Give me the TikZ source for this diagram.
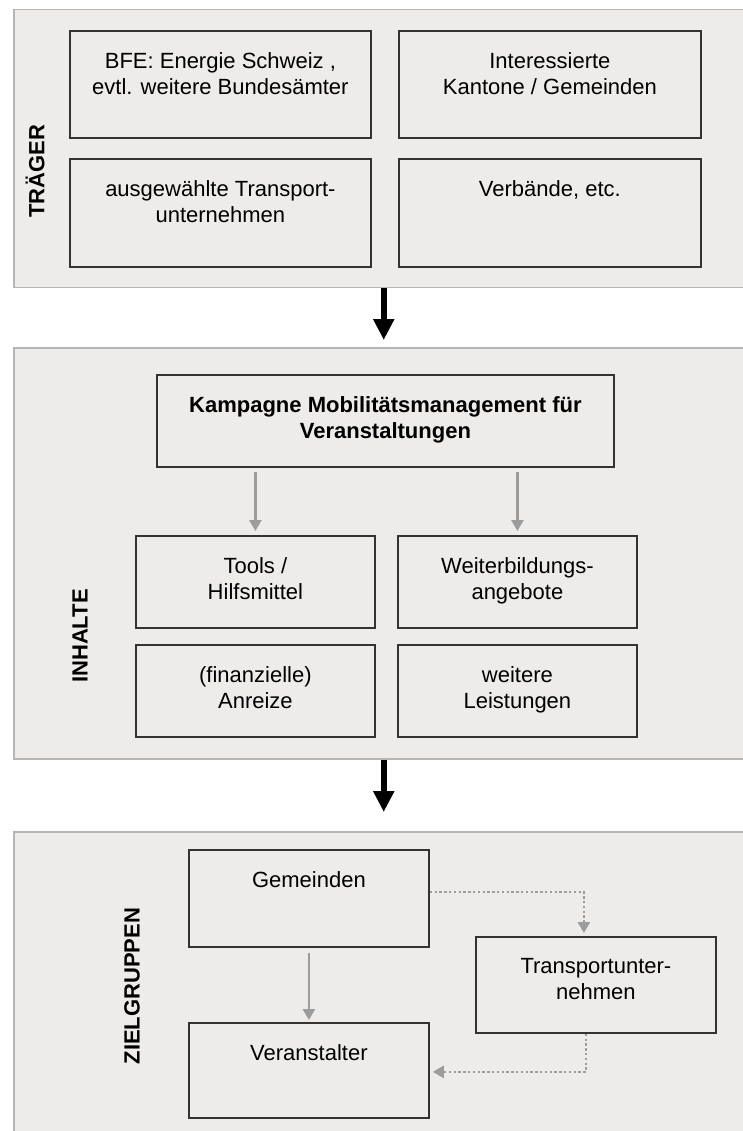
\documentclass[tikz,border=0pt]{standalone}
\usepackage{fontspec}
\setmainfont{Liberation Sans}
\usetikzlibrary{arrows.meta,positioning}

\definecolor{panelgrau}{HTML}{EEECEA}
\definecolor{panelrand}{HTML}{B5B5B5}
\definecolor{boxrand}{HTML}{333333}
\definecolor{pfeilgrau}{HTML}{9C9C9C}

\begin{document}
\begin{tikzpicture}[
    x=1pt, y=-1pt,
    panel/.style 2 args={draw=panelrand, fill=panelgrau, line width=1.5pt, anchor=north west, inner sep=0pt, minimum width=#1, minimum height=#2},
    feld/.style 2 args={draw=boxrand, fill=panelgrau, line width=1.8pt, anchor=north west, inner sep=0pt, minimum width=#1, minimum height=#2},
    inhalt/.style={anchor=north, yshift=-22pt, inner sep=0pt, align=center, font=\fontsize{22}{26}\selectfont},
    titel/.style={font=\bfseries\fontsize{22}{26}\selectfont, rotate=90, inner sep=0pt},
    hauptpfeil/.style={-{Triangle[width=20pt,length=21pt]}, line width=6pt},
    pfeil/.style={-{Triangle[width=12pt,length=11pt]}, draw=pfeilgrau, line width=2.6pt},
    punkte/.style={pfeil, dash pattern=on 2.4pt off 2.4pt}
]
\useasboundingbox (0,0) rectangle (742,1131);

% Panels
\node[panel={740pt}{278pt}] (traeger) at (13,9) {};
\node[panel={740pt}{411pt}] (inhalte) at (13,347) {};
\node[panel={740pt}{309pt}] (ziel) at (13,831) {};
\node[titel] (traegerlabel) at (35,171) {TRÄGER};
\node[titel] (inhaltelabel) at (80,636) {INHALTE};
\node[titel] (ziellabel) at (132,986) {ZIELGRUPPEN};

% Traeger
\node[feld={301pt}{107pt}] (bfe) at (69,30) {};
\node[feld={302pt}{107pt}] (kantone) at (398,30) {};
\node[feld={301pt}{108pt}] (transport) at (69,158) {};
\node[feld={302pt}{108pt}] (verbaende) at (398,158) {};
\node[inhalt] (bfetext) at (bfe.north) {BFE: Energie Schweiz ,\\evtl. weitere Bundesämter};
\node[inhalt] (kantonetext) at (kantone.north) {Interessierte\\Kantone / Gemeinden};
\node[inhalt] (transporttext) at (transport.north) {ausgewählte Transport-\\unternehmen};
\node[inhalt] (verbaendetext) at (verbaende.north) {Verbände, etc.};

% Inhalte
\node[feld={457pt}{92pt}] (kampagne) at (156,374) {};
\node[feld={239pt}{92pt}] (tools) at (135,535) {};
\node[feld={239pt}{92pt}] (weiterbildung) at (397,535) {};
\node[feld={239pt}{92pt}] (anreize) at (135,644) {};
\node[feld={239pt}{92pt}] (leistungen) at (397,644) {};
\node[inhalt, font=\bfseries\fontsize{22}{26}\selectfont] (kampagnetext) at (kampagne.north) {Kampagne Mobilitätsmanagement für\\Veranstaltungen};
\node[inhalt] (toolstext) at (tools.north) {Tools /\\Hilfsmittel};
\node[inhalt] (weiterbildungtext) at (weiterbildung.north) {Weiterbildungs-\\angebote};
\node[inhalt] (anreizetext) at (anreize.north) {(finanzielle)\\Anreize};
\node[inhalt] (leistungentext) at (leistungen.north) {weitere\\Leistungen};

% Zielgruppen
\node[feld={240pt}{97pt}] (gemeinden) at (188,849) {};
\node[feld={240pt}{95pt}] (veranstalter) at (188,1022) {};
\node[feld={240pt}{96pt}] (tunternehmen) at (475,936) {};
\node[inhalt] (gemeindentext) at (gemeinden.north) {Gemeinden};
\node[inhalt] (veranstaltertext) at (veranstalter.north) {Veranstalter};
\node[inhalt] (tunternehmentext) at (tunternehmen.north) {Transportunter-\\nehmen};

% Pfeile
\draw[hauptpfeil, shorten >=7pt] (traeger.south) -- (inhalte.north);
\draw[hauptpfeil, shorten >=19pt] (inhalte.south) -- (ziel.north);
\draw[pfeil, shorten <=4pt, shorten >=4pt] (kampagne.south -| tools.north) -- (tools.north);
\draw[pfeil, shorten <=4pt, shorten >=4pt] (kampagne.south -| weiterbildung.north) -- (weiterbildung.north);
\draw[pfeil, shorten <=5pt, shorten >=2pt] (gemeinden.south) -- (veranstalter.north);
\draw[punkte, shorten >=3pt] ([yshift=6.5pt]gemeinden.east) -| ([xshift=-12pt]tunternehmen.north);
\draw[punkte, shorten >=3pt] ([xshift=-10pt]tunternehmen.south) |- ([yshift=-1.5pt]veranstalter.east);
\end{tikzpicture}
\end{document}
